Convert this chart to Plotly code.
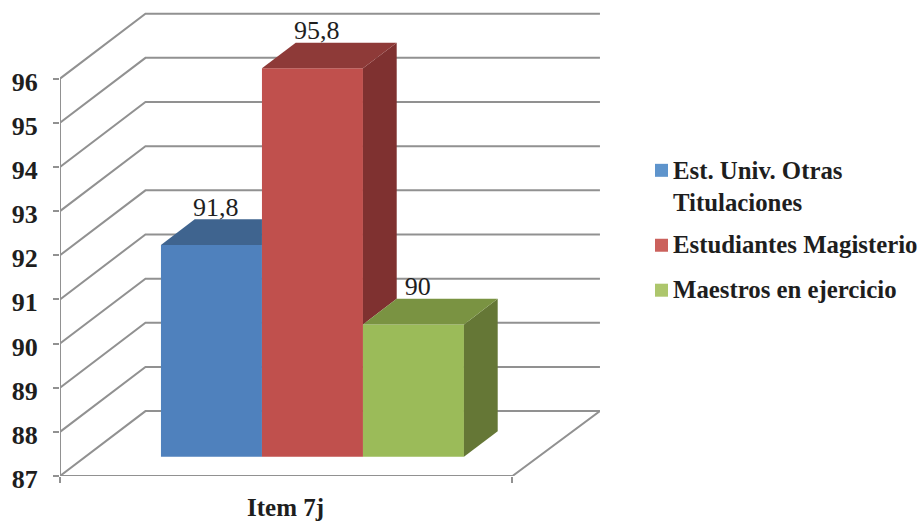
import plotly.graph_objects as go

# Survey result for one item, by respondent group
category = "Item 7j"
series_names = ["Est. Univ. Otras<br>Titulaciones", "Estudiantes Magisterio", "Maestros en ejercicio"]
series_values = [91.8, 95.8, 90.0]
value_ticks = [87, 88, 89, 90, 91, 92, 93, 94, 95, 96]
front_colors = ["#4F81BD", "#C0504D", "#9BBB59"]
top_colors = ["#3F648F", "#8E3A38", "#7A9342"]
side_colors = ["#35547A", "#7F3130", "#657736"]
key_colors = ["#5E94CC", "#CB615C", "#ADC66C"]

# Oblique projection of the box: depth 0 is the front edge of the floor, depth 1 the back wall
FLOOR_WIDTH = 4.48
WALL_WIDTH = 4.5
SHIFT_X = 0.846
SHIFT_Y = 1.47
BAR_FRONT, BAR_BACK = 0.295, 0.69
FIRST_BAR = 0.75
FLOOR = value_ticks[0]
TOP = value_ticks[-1]
LABEL_DROP = 0.07
GRID = "#919191"
SERIF = "Liberation Serif"
INK = "#1E1E1E"

# Plot area in page pixels, used to place the key beside the box
WIDTH, HEIGHT = 918, 521
LEFT, RIGHT, UPPER, LOWER = 60, 600, 5, 476.5


def page_x(px):
    return (px - LEFT) / (RIGHT - LEFT)


def page_y(py):
    return (LOWER - py) / (LOWER - UPPER)


def project(x, value, depth):
    return x + depth * SHIFT_X, value + depth * SHIFT_Y


def poly(points, color):
    xs, ys = zip(*points, points[0])
    return go.Scatter(x=xs, y=ys, mode="lines", fill="toself", fillcolor=color,
                      line=dict(width=0, color=color), showlegend=False, hoverinfo="skip")


fig = go.Figure()

# Floor, walls and grid sit on the layer under the bars
shapes = []
for tick in value_ticks:
    fx, fy = project(0, tick, 0)
    bx, by = project(0, tick, 1)
    ex, ey = project(WALL_WIDTH, tick, 1)
    shapes.append(dict(type="path", layer="below", xref="x", yref="y",
                       path=f"M{fx},{fy} L{bx},{by} L{ex},{ey}",
                       line=dict(color=GRID, width=2)))
floor_corners = [project(WALL_WIDTH, FLOOR, 1), project(FLOOR_WIDTH, FLOOR, 0), project(0, FLOOR, 0)]
shapes.append(dict(type="path", layer="below", xref="x", yref="y",
                   path="M" + " L".join(f"{x},{y}" for x, y in floor_corners),
                   line=dict(color=GRID, width=2)))
shapes.append(dict(type="line", layer="below", xref="x", yref="y",
                   x0=0, x1=0, y0=FLOOR, y1=TOP, line=dict(color=GRID, width=2)))

# Front faces
for i, (name, value) in enumerate(zip(series_names, series_values)):
    cx, base = project(FIRST_BAR + i + 0.5, FLOOR, BAR_FRONT)
    fig.add_trace(go.Bar(x=[cx], y=[value - FLOOR], base=[base], width=[1], name=name,
                         showlegend=False,
                         marker=dict(color=front_colors[i], line=dict(width=0)),
                         hovertemplate=f"{value}<extra></extra>"))

# Side and top faces, cut where the next bar hides them
for i, value in enumerate(series_values):
    x0 = FIRST_BAR + i
    x1 = x0 + 1
    nxt = series_values[i + 1] if i + 1 < len(series_values) else None
    hidden_side = nxt is not None and nxt >= value
    if not hidden_side:
        low = nxt if nxt is not None else FLOOR
        fig.add_trace(poly([project(x1, value, BAR_FRONT), project(x1, value, BAR_BACK),
                            project(x1, low, BAR_BACK), project(x1, low, BAR_FRONT)], side_colors[i]))
    right_back = project(x1, value, BAR_BACK)
    if hidden_side:
        right_back = (project(x1, value, BAR_FRONT)[0], right_back[1])
    fig.add_trace(poly([project(x0, value, BAR_FRONT), project(x1, value, BAR_FRONT),
                        right_back, project(x0, value, BAR_BACK)], top_colors[i]))

# Value labels above the back edge of each top face
for i, value in enumerate(series_values):
    lx = project(FIRST_BAR + i + 0.5, FLOOR, BAR_FRONT + 0.05)[0]
    ly = project(0, value, BAR_BACK)[1] - LABEL_DROP
    label = f"{value:g}".replace(".", ",")
    fig.add_trace(go.Scatter(x=[lx], y=[ly], mode="text", text=[label], textposition="top center",
                             textfont=dict(family=SERIF, size=26, color=INK),
                             showlegend=False, hoverinfo="skip", cliponaxis=False))

fig.add_annotation(x=2.23, y=FLOOR, xref="x", yref="y", text=category, showarrow=False,
                   yanchor="middle", yshift=-31, font=dict(family=SERIF, size=25, color=INK, weight=700))

# Key to the right of the box: square swatch aligned with the first text line
KEY_SWATCH_X = 655
KEY_SWATCH_SIZE = 13
KEY_TEXT_X = 673
key_swatch_tops = [164, 239, 284]
key_text_centres = [186.5, 245, 290]
for name, color, top, centre in zip(series_names, key_colors, key_swatch_tops, key_text_centres):
    shapes.append(dict(type="rect", xref="paper", yref="paper", layer="above", line=dict(width=0),
                       fillcolor=color,
                       x0=page_x(KEY_SWATCH_X), x1=page_x(KEY_SWATCH_X + KEY_SWATCH_SIZE),
                       y0=page_y(top + KEY_SWATCH_SIZE), y1=page_y(top)))
    fig.add_annotation(x=page_x(KEY_TEXT_X), y=page_y(centre), xref="paper", yref="paper",
                       text=name, showarrow=False, xanchor="left", yanchor="middle", align="left",
                       borderpad=0, borderwidth=0,
                       font=dict(family=SERIF, size=24.8, color=INK, weight=700))

fig.update_layout(
    width=WIDTH, height=HEIGHT,
    margin=dict(l=LEFT, r=WIDTH - RIGHT, t=UPPER, b=HEIGHT - LOWER, autoexpand=False),
    plot_bgcolor="white", paper_bgcolor="white",
    barmode="overlay",
    shapes=shapes,
    showlegend=False,
    xaxis=dict(range=[0, (RIGHT - LEFT) / 101], showgrid=False, zeroline=False, showline=False,
               tickvals=[0, FLOOR_WIDTH], ticktext=["", ""], ticks="outside", ticklen=6,
               tickwidth=2, tickcolor=GRID),
    yaxis=dict(range=[FLOOR, FLOOR + (LOWER - UPPER) / 44.2], showgrid=False, zeroline=False, showline=False,
               tickvals=value_ticks, ticks="outside", ticklen=6, tickwidth=2, tickcolor=GRID,
               ticklabelstandoff=10, ticklabelshift=3,
               tickfont=dict(family=SERIF, size=26, color=INK, weight=700)),
)

fig.write_html("out.html")
